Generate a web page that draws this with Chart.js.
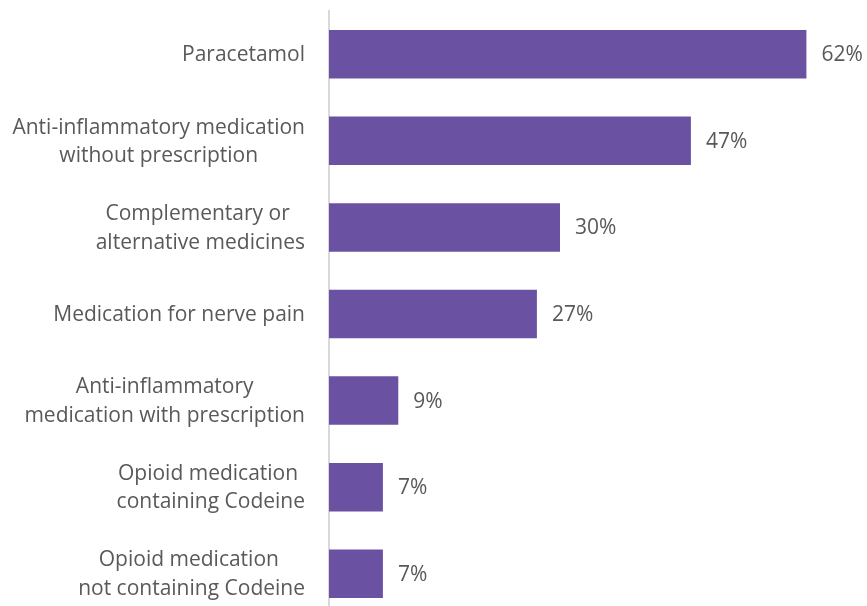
<!DOCTYPE html>
<html>
<head>
<meta charset="utf-8">
<script src="https://cdn.jsdelivr.net/npm/chart.js@4"></script>
<style>
  html, body { margin: 0; padding: 0; background: #ffffff; overflow: hidden; }
  #wrap { width: 867px; height: 617px; }
</style>
</head>
<body>
<div id="wrap"><canvas id="c" width="867" height="617"></canvas></div>
<script>
const categories = [
  ["Paracetamol"],
  ["Anti-inflammatory medication", "without prescription"],
  ["Complementary or ", "alternative medicines"],
  ["Medication for nerve pain"],
  ["Anti-inflammatory", "medication with prescription"],
  ["Opioid medication ", "containing Codeine"],
  ["Opioid medication ", "not containing Codeine"]
];
const values = [62, 47, 30, 27, 9, 7, 7];
const valueLabels = ["62%", "47%", "30%", "27%", "9%", "7%", "7%"];

const FONT = "'Open Sans', Lato, sans-serif";
const TEXT_COLOR = "#595959";
const FONT_SIZE = 21;
const LINE_H = 28.5;

const labelPlugin = {
  id: 'labels',
  afterDraw(chart) {
    const ctx = chart.ctx;
    const y = chart.scales.y;
    const x = chart.scales.x;
    ctx.save();
    ctx.font = FONT_SIZE + "px " + FONT;
    ctx.fillStyle = TEXT_COLOR;
    ctx.textBaseline = 'middle';
    const rightEdge = 305;
    categories.forEach((lines, i) => {
      const cy = y.getPixelForValue(i) + 1;
      const w = Math.max(...lines.map(l => ctx.measureText(l).width));
      const cx = rightEdge - w / 2;
      ctx.textAlign = 'center';
      const startY = cy - (lines.length - 1) * LINE_H / 2;
      lines.forEach((l, j) => ctx.fillText(l, cx, startY + j * LINE_H));
    });
    ctx.textAlign = 'left';
    values.forEach((v, i) => {
      const px = x.getPixelForValue(v);
      const cy = y.getPixelForValue(i) + 1;
      ctx.fillText(valueLabels[i], px + 15, cy);
    });
    ctx.restore();
  }
};

new Chart(document.getElementById('c'), {
  type: 'bar',
  data: {
    labels: categories,
    datasets: [{
      data: values,
      backgroundColor: '#6b51a1',
      borderWidth: 0,
      barPercentage: 0.56,
      categoryPercentage: 1.0
    }]
  },
  options: {
    indexAxis: 'y',
    responsive: false,
    animation: false,
    layout: { padding: { top: 11, right: 37.5, bottom: 0, left: 0 } },
    plugins: { legend: { display: false }, tooltip: { enabled: false } },
    scales: {
      x: { display: false, min: 0, max: 65 },
      y: {
        offset: true,
        grid: { display: false, drawTicks: false },
        border: { display: true, color: '#d9d9d9', width: 2 },
        ticks: { display: false },
        afterFit(scale) { scale.width = 329; }
      }
    }
  },
  plugins: [labelPlugin]
});
</script>
</body>
</html>
